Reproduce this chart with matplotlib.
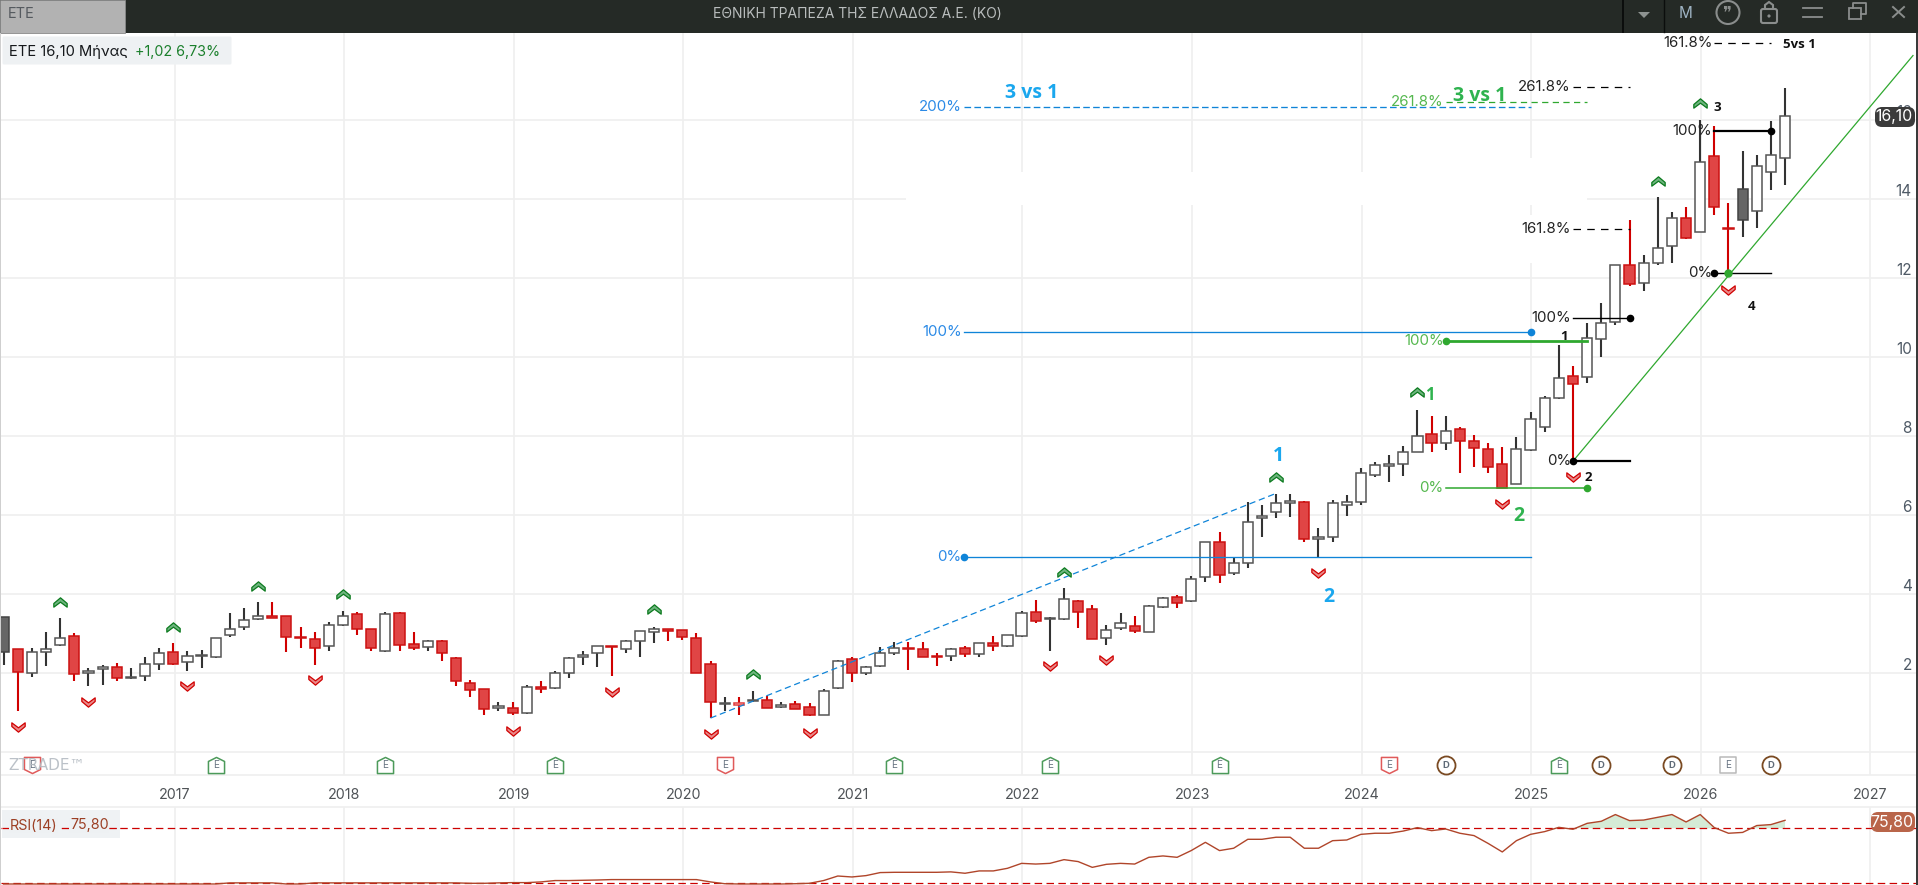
import matplotlib
matplotlib.use("Agg")
import matplotlib.pyplot as plt
from matplotlib.patches import Rectangle, FancyBboxPatch, Circle, Polygon
from matplotlib.transforms import Affine2D
from matplotlib.path import Path

plt.rcParams['font.family'] = ['Inter', 'DejaVu Sans']

# ---------- data (monthly candles; month 0 = Jan 2017) ----------
first_month = -12
opens = [2.52,2.59,1.98,2.52,2.71,2.93,1.98,2.09,2.14,1.86,1.92,2.23,
         2.52,2.26,2.42,2.39,2.96,3.17,3.35,3.44,3.44,2.90,2.86,2.68,
         3.22,3.48,3.10,2.55,3.50,2.72,2.64,2.81,2.36,1.75,1.58,1.11,
         1.11,0.97,1.63,1.60,1.98,2.40,2.49,2.68,2.61,2.80,3.02,3.11,
         3.07,2.87,2.21,1.20,1.24,1.27,1.30,1.12,1.21,1.12,0.94,1.60,
         2.34,1.98,2.16,2.51,2.62,2.61,2.43,2.42,2.62,2.47,2.74,2.68,
         2.93,3.53,3.35,3.35,3.82,3.61,2.87,3.12,3.19,3.02,3.66,3.91,
         3.81,4.42,5.30,4.53,4.77,5.91,6.06,6.30,6.32,5.38,5.43,6.26,
         6.32,7.02,7.24,7.28,7.58,8.04,7.81,8.17,7.88,7.68,7.28,6.77,
         7.64,8.22,8.96,9.53,9.49,10.45,10.88,12.32,11.87,12.38,12.82,13.52,
         13.16,15.10,13.26,13.46,13.70,14.68,15.04]
closes = [3.40,2.01,2.52,2.61,2.89,1.96,2.05,2.14,1.86,1.88,2.23,2.51,
          2.23,2.42,2.46,2.89,3.11,3.34,3.44,3.39,2.90,2.87,2.62,3.22,
          3.44,3.10,2.63,3.48,2.71,2.63,2.80,2.49,1.78,1.57,1.07,1.15,
          0.99,1.63,1.59,1.98,2.38,2.44,2.68,2.64,2.80,3.06,3.10,3.05,
          2.90,2.00,1.25,1.24,1.19,1.31,1.11,1.17,1.09,0.94,1.54,2.30,
          1.98,2.14,2.51,2.62,2.59,2.41,2.40,2.59,2.47,2.74,2.67,2.96,
          3.50,3.30,3.38,3.86,3.55,2.85,3.07,3.25,3.06,3.70,3.88,3.76,
          4.37,5.30,4.48,4.77,5.81,5.98,6.29,6.35,5.38,5.43,6.29,6.32,
          7.05,7.27,7.28,7.58,8.01,7.81,8.13,7.88,7.69,7.20,6.69,7.68,
          8.42,8.96,9.46,9.31,10.49,10.86,12.32,11.85,12.38,12.76,13.51,13.01,
          14.94,13.80,13.24,14.27,14.85,15.11,16.10]
highs = [3.42,2.59,2.62,3.03,3.38,3.00,2.11,2.19,2.24,2.11,2.39,2.63,
         2.75,2.54,2.57,2.89,3.50,3.63,3.79,3.79,3.44,3.15,3.02,3.28,
         3.56,3.53,3.10,3.53,3.53,3.02,2.83,2.83,2.41,1.81,1.58,1.25,
         1.25,1.68,1.78,2.03,2.39,2.55,2.68,2.68,2.83,3.06,3.17,3.11,
         3.08,3.00,2.29,1.38,1.38,1.54,1.41,1.25,1.28,1.22,1.59,2.32,
         2.39,2.16,2.66,2.77,2.79,2.77,2.49,2.63,2.67,2.74,2.93,2.96,
         3.56,3.84,3.40,4.14,3.84,3.72,3.21,3.50,3.44,3.71,3.92,3.97,
         4.45,5.30,5.56,4.91,6.32,6.25,6.54,6.54,6.34,5.66,6.37,6.50,
         7.18,7.34,7.52,7.74,8.66,8.50,8.50,8.22,8.02,7.81,7.71,7.96,
         8.60,9.02,10.31,9.76,10.86,11.36,12.34,13.48,12.59,14.06,13.68,13.80,
         16.01,15.86,13.90,15.22,15.12,15.97,16.81]
lows = [2.19,1.04,1.90,2.17,2.68,1.80,1.67,1.70,1.80,1.83,1.80,2.07,
        2.19,2.05,2.13,2.38,2.91,3.09,3.33,3.39,2.53,2.63,2.19,2.56,
        3.19,2.96,2.56,2.53,2.56,2.58,2.56,2.30,1.67,1.39,0.94,1.03,
        0.94,0.96,1.49,1.59,1.87,2.19,2.14,1.92,2.50,2.41,2.76,2.81,
        2.83,2.00,0.85,1.03,0.93,1.25,1.11,1.11,1.09,0.89,0.94,1.59,
        1.77,1.95,2.15,2.45,2.08,2.40,2.17,2.30,2.41,2.41,2.56,2.66,
        2.91,3.27,2.56,3.34,3.13,2.85,2.71,3.07,3.01,3.02,3.65,3.65,
        3.78,4.31,4.28,4.48,4.66,5.45,5.93,5.95,5.30,4.94,5.30,5.98,
        6.26,6.97,6.84,6.99,7.58,7.58,7.64,7.07,7.22,7.07,6.69,6.77,
        7.63,8.11,8.94,7.38,9.35,10.01,10.81,11.81,11.68,12.32,12.39,13.00,
        13.16,13.61,12.12,13.05,13.28,14.22,14.36]
gray_months = [-12, 111]
hollow_red_months = [40]

rsi = [29.5]*16 + [30.3]*4 + [29.5]*2 + [30.3]*11 + [30.0,30.0,30.3,30.5,30.5,31.0,32.0,32.0,32.2,32.4,
       32.7,32.7,32.7,32.7,32.7,32.7,32.7,31.0,29.7,29.5,29.5,29.5,29.5,29.7,30.0,
       32.0,35.3,34.6,35.6,37.8,38.0,38.0,38.0,38.0,38.3,37.3,39.0,39.0,40.9,44.5,44.0,
       44.5,47.2,45.8,41.6,43.8,44.5,44.0,48.9,49.9,48.9,53.8,59.8,53.8,55.5,62.0,62.0,
       63.5,63.5,55.5,55.5,61.0,61.5,65.6,66.4,66.4,68.0,70.5,68.3,69.5,66.4,64.7,59.0,
       52.8,61.0,65.6,67.6,70.7,69.3,73.6,75.1,80.0,75.6,76.0,78.0,80.0,74.6,80.0,70.5,
       66.4,67.0,72.0,72.7,75.8]
rsi_levels = [70, 30]

up_months = [-8, 0, 6, 12, 34, 41, 63, 78, 88, 105, 108]
up_prices = [3.77, 3.14, 4.18, 3.97, 3.59, 1.94, 4.53, 6.94, 9.09, 14.44, 16.42]
down_months = [-11, -6, 1, 10, 24, 31, 38, 45, 62, 66, 81, 94, 99, 110]
down_prices = [0.66, 1.29, 1.69, 1.83, 0.56, 1.54, 0.46, 0.49, 2.19, 2.34, 4.54, 6.29, 6.99, 11.72]

event_months = [-10, 3, 15, 27, 39, 51, 62, 74, 86, 90, 98, 101, 106, 110, 113]
event_kinds = ['er', 'e', 'e', 'e', 'er', 'e', 'e', 'e', 'er', 'd', 'e', 'd', 'd', 'es', 'd']

year_labels = list(range(2017, 2028))
price_ticks = [2, 4, 6, 8, 10, 12, 14, 16]

blue_start, blue_end = 55.9, 96.0
blue_levels = [("0%", 4.92, '-'), ("100%", 10.63, '-'), ("200%", 16.33, '--')]
green_start, green_end = 90.0, 100.0
green_levels = [("0%", 6.67, '-', 1.1), ("100%", 10.41, '-', 2.0), ("261.8%", 16.46, '--', 0.9)]
fib1_start, fib1_end = 99.0, 103.0
fib1_levels = [("0%", 7.36, '-', 1.6), ("100%", 10.99, '-', 1.0), ("161.8%", 13.24, '--', 0.9), ("261.8%", 16.83, '--', 0.9)]
fib2_start, fib2_end = 109.0, 113.0
fib2_levels = [("0%", 12.12, '-', 1.0), ("100%", 15.73, '-', 1.6), ("161.8%", 17.97, '--', 0.9)]
blue_trend_m, blue_trend_p = [38.0, 77.9], [0.85, 6.53]
green_trend_m, green_trend_p = [99.0, 123.05], [7.36, 17.64]

notes = [("3 vs 1", 60.7, 16.70, '#1aa7ee', 14), ("1", 78.2, 7.48, '#1aa7ee', 14), ("2", 81.7, 3.92, '#1aa7ee', 14),
         ("3 vs 1", 92.4, 16.62, '#2fb34f', 14), ("1", 88.9, 9.03, '#2fb34f', 12), ("2", 95.2, 5.97, '#2fb34f', 14),
         ("5vs 1", 115.0, 17.93, '#111111', 9.5), ("3", 109.2, 16.32, '#111111', 9.5), ("4", 111.6, 11.29, '#111111', 9.5),
         ("2", 100.1, 6.94, '#111111', 9.5), ("1", 98.4, 10.53, '#111111', 9.5)]

# ---------- layout ----------
W, H = 1918, 885
PX = Affine2D().scale(1, -1).translate(0, H)
X0, DX = 173.3, 14.138          # pixel position of month 0, pixels per month
Y0, DY = 751.6, 39.46           # pixel position of price 0, pixels per price unit
GRID = '#efefef'

fig = plt.figure(figsize=(W / 100, H / 100), dpi=100, facecolor='white')
def axes_px(x0, y0, x1, y1, **kw):
    return fig.add_axes([x0 / W, 1 - y1 / H, (x1 - x0) / W, (y1 - y0) / H], **kw)

ax = axes_px(1, 33, 1916, 775)
ax.set_xlim((1 - X0) / DX, (1916 - X0) / DX)
ax.set_ylim((Y0 - 775) / DY, (Y0 - 33) / DY)
ax.set_axisbelow(True)
for s in ['top', 'left', 'right']:
    ax.spines[s].set_visible(False)
ax.spines['bottom'].set_color(GRID)
ax.spines['bottom'].set_linewidth(1.2)

year_pos = [(y - 2017) * 11.995 + 0.09 for y in year_labels]
ax.set_xticks(year_pos)
ax.set_xticklabels([str(y) for y in year_labels], fontsize=10.3, color='#4f5357')
ax.tick_params(axis='x', length=0, pad=9.3)
ax.set_yticks([0] + price_ticks)
ax.set_yticklabels([''] + [str(p) for p in price_ticks], fontsize=11, color='#4f5a66')
ax.yaxis.tick_right()
ax.tick_params(axis='y', length=0, pad=-3)
for lab in ax.get_yticklabels():
    lab.set_ha('right')
    lab.set_transform(lab.get_transform() + Affine2D().translate(0, 9))
ax.grid(True, color=GRID, lw=1.2)

# erased strips of the grid around the drawn-over area
for (x, y, w, h) in [(906, 172, 681, 33), (1500, 158, 87, 47), (1525, 215, 62, 48)]:
    ax.add_patch(Rectangle((x, y), w, h, transform=PX, fc='white', ec='none', zorder=0.8, clip_on=False))

# ---------- candles ----------
months = list(range(first_month, first_month + len(opens)))
for m, o, c, hi, lo in zip(months, opens, closes, highs, lows):
    up = c >= o
    top, bot = max(o, c), min(o, c)
    gray = m in gray_months
    hollow = m in hollow_red_months
    wick = '#333333' if up else '#d00000'
    ax.vlines(m, lo, hi, color=wick, lw=1.5, zorder=3)
    if up:
        fc, ec = ('#666666', '#444444') if gray else ('white', '#555555')
    else:
        fc, ec = ('white', '#e23a3a') if hollow else ('#e04545', '#cc1111')
    ax.bar(m, top - bot, bottom=bot, width=0.72, color=fc, edgecolor=ec, lw=1.1, zorder=4)

# ---------- fibonacci and trend lines ----------
BLUE, GREEN, BLACK = '#0f84d8', '#2fa82f', '#000000'
BLUE_T, GREEN_T = '#2b8ae6', '#55b84f'
def level_label(m, p, s, color):
    ax.annotate(s, (m, p), xytext=(-1.5, 0), textcoords='offset points', ha='right', va='center',
                fontsize=10.8, color=color, zorder=6)

for name, p, ls in blue_levels:
    ax.plot([blue_start, blue_end], [p, p], color=BLUE, lw=0.95, ls=(0, (5, 2.5)) if ls == '--' else '-', zorder=5)
    level_label(blue_start, p, name, BLUE_T)
ax.plot([blue_start], [4.92], 'o', color=BLUE, ms=4.5, zorder=6)
ax.plot([blue_end], [10.63], 'o', color=BLUE, ms=4.5, zorder=6)
ax.plot(blue_trend_m, blue_trend_p, color=BLUE, lw=0.9, ls=(0, (5, 3)), zorder=5)

for name, p, ls, lw in green_levels:
    ax.plot([green_start, green_end], [p, p], color=GREEN, lw=lw, ls=(0, (5, 3.5)) if ls == '--' else '-', zorder=5)
    level_label(green_start, p, name, GREEN_T)
ax.plot([green_end], [6.67], 'o', color=GREEN, ms=4.5, zorder=6)
ax.plot([green_start], [10.41], 'o', color=GREEN, ms=4.5, zorder=6)
ax.plot(green_trend_m, green_trend_p, color=GREEN, lw=0.9, zorder=5)
ax.plot([110.0], [12.12], 'o', color=GREEN, ms=5, zorder=7)

for levels, start, end, dots in [(fib1_levels, fib1_start, fib1_end, [(fib1_start, 7.36), (fib1_end, 10.99)]),
                                 (fib2_levels, fib2_start, fib2_end, [(fib2_start, 12.12), (fib2_end, 15.73)])]:
    for name, p, ls, lw in levels:
        ax.plot([start, end], [p, p], color=BLACK, lw=lw, ls=(0, (6, 5)) if ls == '--' else '-', zorder=5)
        level_label(start, p, name, '#222222')
    for dm, dp in dots:
        ax.plot([dm], [dp], 'o', color=BLACK, ms=4.5, zorder=6)

for s, m, p, col, size in notes:
    ax.text(m, p, s, color=col, fontsize=size, fontweight='bold', family=['Open Sans', 'DejaVu Sans'],
            ha='center', va='center', zorder=6)

# ---------- chevron signals ----------
up_marker = Path([(-1, -0.55), (-1, 0.0), (0, 0.85), (1, 0.0), (1, -0.55), (0, 0.2), (-1, -0.55)], closed=True)
down_marker = Path([(-1, 0.55), (-1, 0.0), (0, -0.85), (1, 0.0), (1, 0.55), (0, -0.2), (-1, 0.55)], closed=True)
ax.plot(up_months, up_prices, ls='none', marker=up_marker, ms=9.6, mfc='#6fb57f', mec='#0b7a1e', mew=0.9, zorder=6)
ax.plot(down_months, down_prices, ls='none', marker=down_marker, ms=9.6, mfc='#ea8a8a', mec='#d00000', mew=0.9, zorder=6)

# ---------- event flags ----------
flag_p = (Y0 - 765) / DY
house = Path([(-1, -1), (-1, 0.5), (0, 1), (1, 0.5), (1, -1), (-1, -1)], closed=True)
shield = Path([(-1, 1), (-1, -0.5), (0, -1), (1, -0.5), (1, 1), (-1, 1)], closed=True)
square = Path([(-1, -1), (-1, 1), (1, 1), (1, -1), (-1, -1)], closed=True)
for m, kind in zip(event_months, event_kinds):
    if kind == 'd':
        ax.plot([m], [flag_p], 'o', ms=13, mfc='white', mec='#7a4a22', mew=1.3, zorder=5)
        ax.text(m, flag_p, 'D', fontsize=6.8, color='#5f6b78', ha='center', va='center', zorder=6, fontweight='bold')
    else:
        mk, ec = {'e': (house, '#4c9a5a'), 'er': (shield, '#e05a5a'), 'es': (square, '#b9b9b9')}[kind]
        ax.plot([m], [flag_p], ls='none', marker=mk, ms=11.6, mfc='white', mec=ec, mew=1.1, zorder=5)
        ax.text(m, flag_p, 'E', fontsize=7.2, color='#6b7785', ha='center', va='center', zorder=6)

# ---------- RSI pane ----------
rx = axes_px(1, 807, 1916, 885)
rx.set_xlim(ax.get_xlim())
rx.set_ylim(70 - (885 - 828.3) / 1.375, 70 + (828.3 - 807) / 1.375)
rx.set_xticks(year_pos)
rx.set_yticks([])
rx.tick_params(axis='x', length=0, labelbottom=False)
rx.grid(True, axis='x', color=GRID, lw=1.2)
rx.set_axisbelow(True)
for s in ['bottom', 'left', 'right']:
    rx.spines[s].set_visible(False)
rx.spines['top'].set_color(GRID)
rx.spines['top'].set_linewidth(1.2)
for lv in rsi_levels:
    rx.axhline(lv, color='#cc0000', lw=0.9, ls=(0, (6, 3.5)), zorder=2)
rsi_m = months[:len(rsi)]
rx.fill_between(rsi_m, 70, rsi, where=[v >= 70 for v in rsi], interpolate=True, color='#d5ebd6', lw=0, zorder=1)
rx.plot(rsi_m, rsi, color='#b0452a', lw=1.0, zorder=3)

# ---------- window chrome, price tags, legends (pixel overlay) ----------
ov = axes_px(0, 0, W, H, zorder=10)
ov.set_xlim(0, W)
ov.set_ylim(H, 0)
ov.axis('off')
ov.patch.set_alpha(0)
ov.add_patch(Rectangle((0, 0), W, 33, fc='#252a26', ec='none'))
ov.add_patch(Rectangle((0, 0), 125, 32.5, fc='#b2b2b2', ec='#8a8a8a', lw=0.6))
ov.text(8, 14, 'ΕΤΕ', fontsize=10.5, color='#555a5f', va='center')
ov.text(857, 14, 'ΕΘΝΙΚΗ ΤΡΑΠΕΖΑ ΤΗΣ ΕΛΛΑΔΟΣ Α.Ε. (ΚΟ)', fontsize=10, color='#b9bdbd', ha='center', va='center')
ov.plot([1623, 1623], [0, 32], color='#0b0d0c', lw=1.4)
ov.plot([1664, 1664], [0, 32], color='#0b0d0c', lw=1)
ov.add_patch(Polygon([(1638, 12), (1650, 12), (1644, 18)], fc='#8d9290', ec='none'))
ov.text(1686, 13.5, 'M', fontsize=11, color='#9fb4c4', ha='center', va='center')
ov.add_patch(Circle((1728, 12.5), 11.5, fc='none', ec='#8a8d8c', lw=1.5))
ov.text(1728, 12.5, '❞', fontsize=12, family='DejaVu Sans', color='#8a8d8c', ha='center', va='center')
ov.add_patch(FancyBboxPatch((1763, 11), 12, 10, boxstyle='round,pad=2', fc='none', ec='#8a8d8c', lw=1.5))
ov.add_patch(Polygon([(1765, 9), (1765, 5), (1769, 2), (1773, 5), (1773, 9)], closed=False, fc='none', ec='#8a8d8c', lw=1.5))
ov.add_patch(Circle((1769, 16), 1.6, fc='#8a8d8c', ec='none'))
ov.plot([1803, 1822], [8, 8], color='#8a8d8c', lw=1.3)
ov.plot([1803, 1822], [17, 17], color='#8a8d8c', lw=1.3)
ov.add_patch(Rectangle((1849, 8), 12, 11, fc='none', ec='#8a8d8c', lw=1.3))
ov.plot([1853, 1853, 1866, 1866, 1861], [8, 3, 3, 14, 14], color='#8a8d8c', lw=1.3)
ov.plot([1893, 1904], [7, 17], color='#8a8d8c', lw=1.4)
ov.plot([1893, 1904], [17, 7], color='#8a8d8c', lw=1.4)

ov.add_patch(Rectangle((0, 33), 1.2, H - 33, fc='#cfcfcf', ec='none'))
ov.add_patch(Rectangle((1915.5, 33), 2.5, H - 33, fc='#3a3a3a', ec='none'))

ov.add_patch(FancyBboxPatch((4, 38), 226, 25, boxstyle='round,pad=1.5', fc='#eef1f3', ec='none'))
ov.text(9, 52, 'ΕΤΕ 16,10 Μήνας', fontsize=10.6, color='#15181b', va='center')
ov.text(135, 52, '+1,02 6,73%', fontsize=10.3, color='#1a7f2b', va='center')

ov.add_patch(FancyBboxPatch((1877, 109), 36, 16, boxstyle='round,pad=2,rounding_size=7', fc='#3b3b3b', ec='none'))
ov.text(1894, 117, '16,10', fontsize=11.4, color='white', ha='center', va='center')
ov.add_patch(FancyBboxPatch((1873, 814), 40, 16, boxstyle='round,pad=2,rounding_size=7', fc='#b9654a', ec='none'))
ov.text(1892, 822, '75,80', fontsize=11.4, color='white', ha='center', va='center')

ov.add_patch(Rectangle((2, 810), 118, 28, fc='#eef1f3', ec='none', alpha=0.9))
ov.plot([2, 120], [828.3, 828.3], color='#cc0000', lw=0.9, ls=(0, (6, 3.5)))
ov.text(10, 825.5, 'RSI(14)', fontsize=10.3, color='#9c3f24', va='center',
        bbox=dict(fc='#eef1f3', ec='none', pad=0.5))
ov.text(70, 825.5, '75,80', fontsize=10.3, color='#9c3f24', va='center',
        bbox=dict(fc='#eef1f3', ec='none', pad=0.5))
ov.text(8, 766, 'ZTRADE™', fontsize=11, family='DejaVu Sans', color='#b4bbc2', va='center', alpha=0.9)

fig.savefig('out.png', dpi=100, facecolor='white')
